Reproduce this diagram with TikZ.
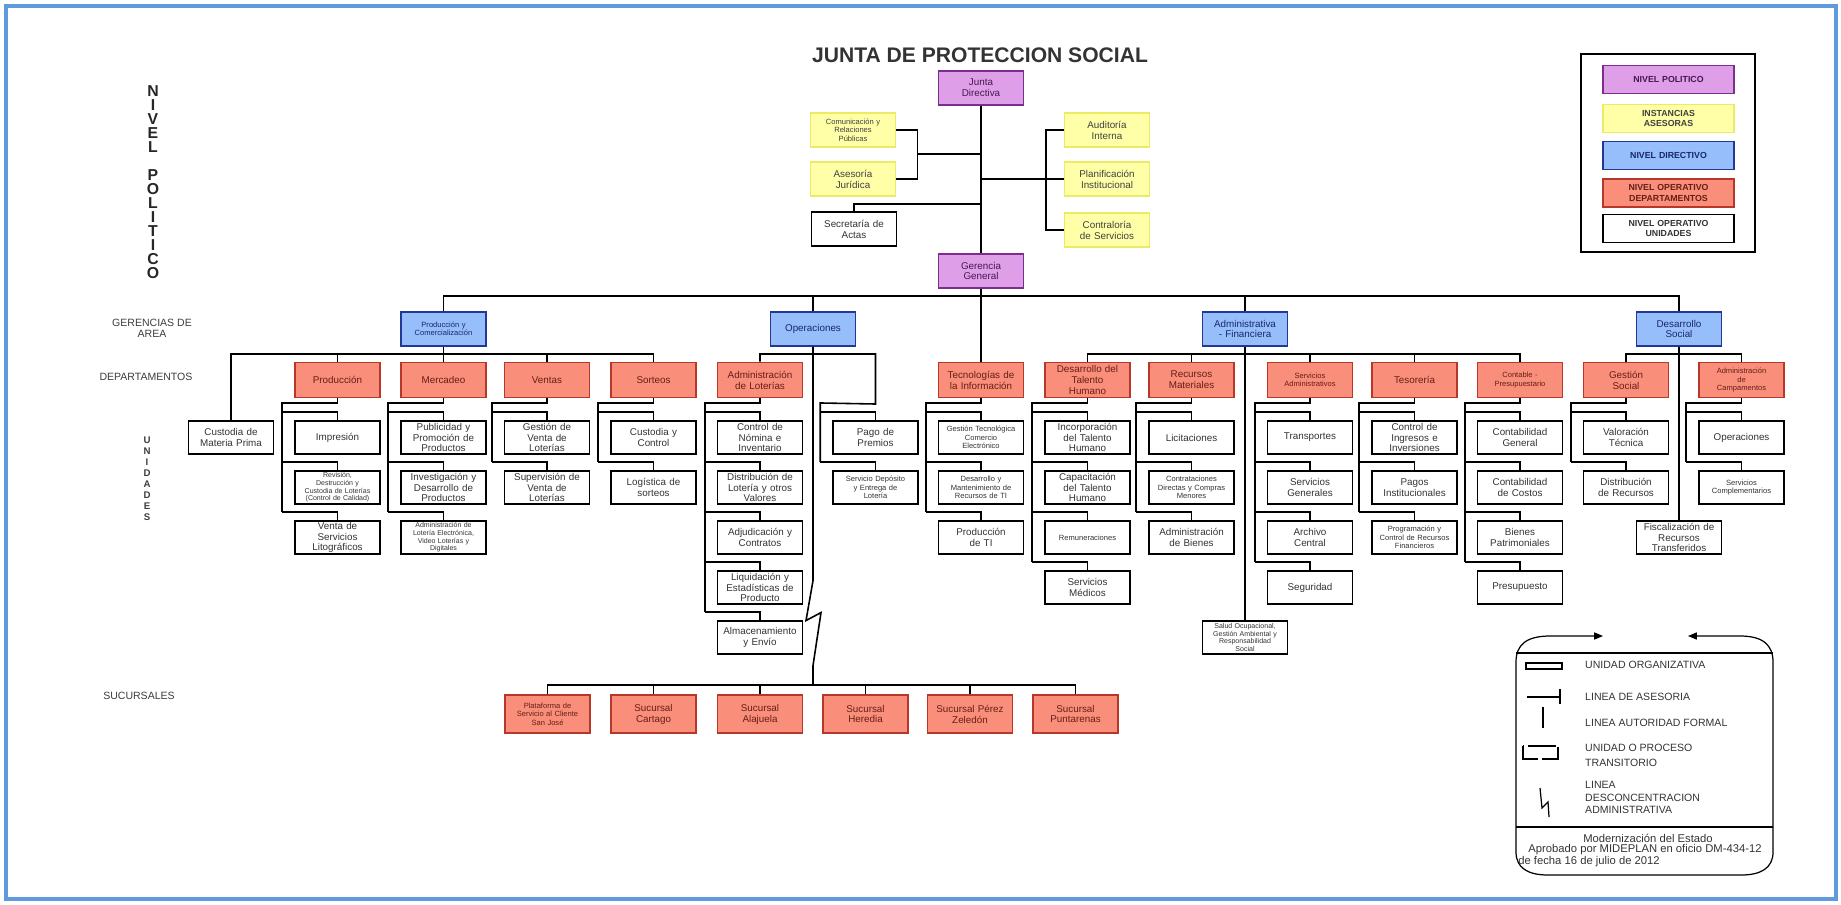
\documentclass[tikz,border=0pt]{standalone}
\usepackage{fontspec}
\setmainfont{Liberation Sans}
\usetikzlibrary{calc,arrows.meta}
\definecolor{polfill}{RGB}{222,158,232}
\definecolor{poldraw}{RGB}{125,45,140}
\definecolor{asefill}{RGB}{255,255,168}
\definecolor{asedraw}{RGB}{236,236,100}
\definecolor{dirfill}{RGB}{150,190,250}
\definecolor{dirdraw}{RGB}{35,55,150}
\definecolor{depfill}{RGB}{249,142,122}
\definecolor{depdraw}{RGB}{185,55,40}
\definecolor{frameblue}{RGB}{95,155,220}
\definecolor{labelgray}{RGB}{60,60,60}

\begin{document}
\begin{tikzpicture}[x=0.02cm,y=-0.02cm,
    box/.style={draw,line width=0.9pt,minimum width=1.7cm,minimum height=0.67cm,inner sep=0.5pt,
        text width=1.62cm,align=center,text=black!80,font=\fontsize{5.6}{6.2}\selectfont},
    pol/.style={box,fill=polfill,draw=poldraw,text=poldraw!55!black},
    ase/.style={box,fill=asefill,draw=asedraw,text=black!75},
    dir/.style={box,fill=dirfill,draw=dirdraw,text=dirdraw!70!black},
    dep/.style={box,fill=depfill,draw=depdraw,text=depdraw!55!black,minimum height=0.7cm},
    uni/.style={box,fill=white},
    tinytext/.style={font=\fontsize{4.3}{4.8}\selectfont},
    fourlines/.style={font=\fontsize{4}{4.35}\selectfont},
    legtxt/.style={minimum width=2.62cm,minimum height=0.56cm,text width=2.5cm,font=\bfseries\fontsize{5}{5.8}\selectfont},
    link/.style={line width=0.9pt},
    lvl/.style={text=labelgray,align=center,font=\fontsize{6}{6.2}\selectfont},
    lgt/.style={anchor=west,align=left,text=black!80,font=\fontsize{6}{7.1}\selectfont}]
    \useasboundingbox (0,0) rectangle (1841,904);
    \draw[frameblue,line width=2.2pt] (6,6) rectangle (1836,899);

    % Title
    \node[text=black!80,font=\bfseries\fontsize{12}{14}\selectfont] (title) at (980,55) {JUNTA DE PROTECCION SOCIAL};

    % Level labels
    \node[text=black!85,align=center,font=\bfseries\fontsize{9}{7.97}\selectfont] (npol) at (153,182)
        {N\\I\\V\\E\\L\\[7.97pt]P\\O\\L\\I\\T\\I\\C\\O};
    \node[lvl] (lger) at (152,328) {GERENCIAS DE\\AREA};
    \node[lvl] (ldep) at (146,377) {DEPARTAMENTOS};
    \node[align=center,text=labelgray,font=\bfseries\fontsize{5.5}{6.24}\selectfont] (luni) at (147,479)
        {U\\N\\I\\D\\A\\D\\E\\S};
    \node[lvl] (lsuc) at (139,696) {SUCURSALES};

    % Junta Directiva and advisory bodies
    \node[pol] (jd) at (981,88) {Junta\\Directiva};
    \node[ase,tinytext] (com) at (853,130) {Comunicación y\\Relaciones\\Públicas};
    \node[ase] (ases) at (853,179) {Asesoría\\Jurídica};
    \node[uni] (sec) at (854,229) {Secretaría de\\Actas};
    \node[ase] (aud) at (1107,130) {Auditoría\\Interna};
    \node[ase] (plan) at (1107,179) {Planificación\\Institucional};
    \node[ase] (contr) at (1107,230) {Contraloría\\de Servicios};
    \node[pol] (gg) at (981,271) {Gerencia\\General};

    % Area management
    \node[dir,tinytext] (pyc) at (443.5,329) {Producción y\\Comercialización};
    \node[dir] (ops) at (813,329) {Operaciones};
    \node[dir] (adf) at (1245,329) {Administrativa\\- Financiera};
    \node[dir] (ds) at (1679,329) {Desarrollo\\Social};

    % Departments
    \node[dep] (prod) at (337.5,380) {Producción};
    \node[dep] (merc) at (443.5,380) {Mercadeo};
    \node[dep] (ven) at (547,380) {Ventas};
    \node[dep] (sor) at (653.5,380) {Sorteos};
    \node[dep] (adl) at (760,380) {Administración\\de Loterías};
    \node[dep] (ti) at (981,380) {Tecnologías de\\la Información};
    \node[dep] (dth) at (1087.5,380) {Desarrollo del\\Talento\\Humano};
    \node[dep] (rm) at (1191.5,380) {Recursos\\Materiales};
    \node[dep,tinytext] (sa) at (1310,380) {Servicios\\Administrativos};
    \node[dep] (tes) at (1414.5,380) {Tesorería};
    \node[dep,tinytext] (cont) at (1520,380) {Contable -\\Presupuestario};
    \node[dep] (gs) at (1626,380) {Gestión\\Social};
    \node[dep,tinytext] (ac) at (1741.5,380) {Administración\\de\\Campamentos};

    % Units
    \node[uni] (cmp) at (231,437.5) {Custodia de\\Materia Prima};
    \node[uni] (imp) at (337.5,437.5) {Impresión};
    \node[uni,fourlines] (rev) at (337.5,487.5) {Revisión,\\Destrucción y\\Custodia de Loterías\\(Control de Calidad)};
    \node[uni] (vsl) at (337.5,537.5) {Venta de\\Servicios\\Litográficos};
    \node[uni] (pub) at (443.5,437.5) {Publicidad y\\Promoción de\\Productos};
    \node[uni] (inv) at (443.5,487.5) {Investigación y\\Desarrollo de\\Productos};
    \node[uni,fourlines] (ale) at (443.5,537.5) {Administración de\\Lotería Electrónica,\\Video Loterías y\\Digitales};
    \node[uni] (gvl) at (547,437.5) {Gestión de\\Venta de\\Loterías};
    \node[uni] (svl) at (547,487.5) {Supervisión de\\Venta de\\Loterías};
    \node[uni] (cyc) at (653.5,437.5) {Custodia y\\Control};
    \node[uni] (log) at (653.5,487.5) {Logística de\\sorteos};
    \node[uni] (cni) at (760,437.5) {Control de\\Nómina e\\Inventario};
    \node[uni] (dlv) at (760,487.5) {Distribución de\\Lotería y otros\\Valores};
    \node[uni] (adc) at (760,537.5) {Adjudicación y\\Contratos};
    \node[uni] (lep) at (760,587.5) {Liquidación y\\Estadísticas de\\Producto};
    \node[uni] (aye) at (760,637.5) {Almacenamiento\\y Envío};
    \node[uni] (pp) at (875.5,437.5) {Pago de\\Premios};
    \node[uni,tinytext] (sde) at (875.5,487.5) {Servicio Depósito\\y Entrega de\\Lotería};
    \node[uni,tinytext] (gtc) at (981,437.5) {Gestión Tecnológica\\Comercio\\Electrónico};
    \node[uni,tinytext] (dmr) at (981,487.5) {Desarrollo y\\Mantenimiento de\\Recursos de TI};
    \node[uni] (pti) at (981,537.5) {Producción\\de TI};
    \node[uni] (itl) at (1087.5,437.5) {Incorporación\\del Talento\\Humano};
    \node[uni] (ctl) at (1087.5,487.5) {Capacitación\\del Talento\\Humano};
    \node[uni,tinytext] (rem) at (1087.5,537.5) {Remuneraciones};
    \node[uni] (smed) at (1087.5,587.5) {Servicios\\Médicos};
    \node[uni] (lic) at (1191.5,437.5) {Licitaciones};
    \node[uni,tinytext] (cdc) at (1191.5,487.5) {Contrataciones\\Directas y Compras\\Menores};
    \node[uni] (adb) at (1191.5,537.5) {Administración\\de Bienes};
    \node[uni] (tra) at (1310,437.5) {Transportes};
    \node[uni] (sgen) at (1310,487.5) {Servicios\\Generales};
    \node[uni] (arc) at (1310,537.5) {Archivo\\Central};
    \node[uni] (seg) at (1310,587.5) {Seguridad};
    \node[uni] (cii) at (1414.5,437.5) {Control de\\Ingresos e\\Inversiones};
    \node[uni] (pin) at (1414.5,487.5) {Pagos\\Institucionales};
    \node[uni,tinytext] (pcr) at (1414.5,537.5) {Programación y\\Control de Recursos\\Financieros};
    \node[uni] (cgen) at (1520,437.5) {Contabilidad\\General};
    \node[uni] (ccos) at (1520,487.5) {Contabilidad\\de Costos};
    \node[uni] (bpat) at (1520,537.5) {Bienes\\Patrimoniales};
    \node[uni] (pres) at (1520,587.5) {Presupuesto};
    \node[uni,fourlines] (sal) at (1245,637.5) {Salud Ocupacional,\\Gestión Ambiental y\\Responsabilidad\\Social};
    \node[uni] (vt) at (1626,437.5) {Valoración\\Técnica};
    \node[uni] (dr) at (1626,487.5) {Distribución\\de Recursos};
    \node[uni] (opc) at (1741.5,437.5) {Operaciones};
    \node[uni,tinytext] (scom) at (1741.5,487.5) {Servicios\\Complementarios};
    \node[uni] (fis) at (1679,537.5) {Fiscalización de\\Recursos\\Transferidos};

    % Branches
    \node[dep,tinytext,minimum height=0.76cm] (suc1) at (547.5,714) {Plataforma de\\Servicio al Cliente\\San José};
    \node[dep,minimum height=0.76cm] (suc2) at (653.5,714) {Sucursal\\Cartago};
    \node[dep,minimum height=0.76cm] (suc3) at (760,714) {Sucursal\\Alajuela};
    \node[dep,minimum height=0.76cm] (suc4) at (865.5,714) {Sucursal\\Heredia};
    \node[dep,minimum height=0.76cm] (suc5) at (970,714) {Sucursal Pérez\\Zeledón};
    \node[dep,minimum height=0.76cm] (suc6) at (1075.5,714) {Sucursal\\Puntarenas};

    % Main authority line
    \draw[link] (jd) -- (gg);
    \draw[link] (gg) -- (ti);
    % Advisory lines
    \coordinate (asi) at (917,154);
    \draw[link] (com.east) -- ++(21,0) |- (ases.east);
    \draw[link] (asi) -- (asi -| jd.south);
    \draw[link] (aud.west) -- ++(-18,0) |- (contr.west);
    \draw[link] (plan.west) -- (plan.west -| jd.south);
    \coordinate (secj) at (981,204);
    \draw[link] (sec.north) |- (secj);

    % Area management line
    \coordinate (gline) at (981,296);
    \draw[link] (pyc.north) |- (gline) -| (ds.north);
    \draw[link] (ops.north) -- (ops.north |- gline);
    \draw[link] (adf.north) -- (adf.north |- gline);

    % Department lines
    \coordinate (dline) at (0,354);
    \draw[link] (cmp.north) |- (pyc.south |- dline) -| (sor.north);
    \draw[link] (pyc.south) -- (merc.north);
    \foreach \d in {prod,ven}
        \draw[link] (\d.north) -- (\d.north |- dline);
    \draw[link] (adl.north) |- (pp.north |- dline) -- ++(0,50)
        -- ($(pp.north west)+(-12,-17)$) -- ($(sde.north west)+(-12,-8)$);
    \draw[link] (dth.north) |- (adf.south |- dline) -| (cont.north);
    \draw[link] (adf.south) -- (sal.north);
    \foreach \d in {rm,sa,tes}
        \draw[link] (\d.north) -- (\d.north |- dline);
    \draw[link] (gs.north) |- (ds.south |- dline) -| (ac.north);
    \draw[link] (ds.south) -- (fis.north);

    % Unit brackets
    \foreach \d/\f/\l in {prod/imp/vsl,merc/pub/ale,ven/gvl/svl,sor/cyc/log,adl/cni/aye,ti/gtc/pti,
            dth/itl/smed,rm/lic/adb,sa/tra/seg,tes/cii/pcr,cont/cgen/pres,gs/vt/dr,ac/opc/scom}
        \draw[link] (\d.south) |- ($(\f.north west)+(-12,-17)$) -- ($(\l.north west)+(-12,-8)$);
    \foreach \u in {imp,rev,vsl,pub,inv,ale,gvl,svl,cyc,log,cni,dlv,adc,lep,aye,pp,sde,gtc,dmr,pti,
            itl,ctl,rem,smed,lic,cdc,adb,tra,sgen,arc,seg,cii,pin,pcr,cgen,ccos,bpat,pres,vt,dr,opc,scom}
        \draw[link] ($(\u.north west)+(-12,-8)$) -| (\u.north);

    % Decentralisation line to branches
    \coordinate (sline) at (0,685);
    \draw[link] (ops.south) -- ++(0,234) -- ++(-7,40) -- ++(15,-8) -- ++(-8,53) -- (ops.south |- sline);
    \draw[link] (suc1.north) |- (ops.south |- sline) -| (suc6.north);
    \foreach \s in {suc2,suc3,suc4,suc5}
        \draw[link] (\s.north) -- (\s.north |- sline);

    % Colour legend
    \node[draw,line width=0.9pt,minimum width=3.48cm,minimum height=3.96cm] (leg) at (1668,153) {};
    \node[pol,legtxt] (lpol) at (1668.5,79.5) {NIVEL POLITICO};
    \node[ase,legtxt] (lase) at (1668.5,118.5) {INSTANCIAS\\ASESORAS};
    \node[dir,legtxt] (ldir) at (1668.5,155.5) {NIVEL DIRECTIVO};
    \node[dep,legtxt] (ldep2) at (1668.5,193) {NIVEL OPERATIVO\\DEPARTAMENTOS};
    \node[uni,legtxt] (luni2) at (1668.5,228.5) {NIVEL OPERATIVO\\UNIDADES};

    % Symbol legend
    \draw[line width=0.7pt,{Triangle[length=5pt,width=4pt]}-{Triangle[length=5pt,width=4pt]}]
        (1603,636) -- (1550,636) .. controls (1526,636) and (1516,645) .. (1516,662)
        -- (1516,852) .. controls (1516,868) and (1528,875) .. (1548,875)
        -- (1741,875) .. controls (1761,875) and (1773,868) .. (1773,852)
        -- (1773,662) .. controls (1773,645) and (1763,636) .. (1740,636) -- (1688,636);
    \draw[line width=0.7pt] (1516,653) -- (1773,653);
    \draw[line width=0.7pt] (1516,827) -- (1773,827);
    \draw[line width=0.7pt] (1526,663) rectangle (1562,669);
    \draw[line width=0.7pt] (1527,697) -- (1560,697);
    \draw[line width=0.7pt] (1560,689) -- (1560,704);
    \draw[line width=0.7pt] (1543,707) -- (1543,728);
    \draw[line width=0.7pt,dash pattern=on 16pt off 2pt] (1523,746) rectangle (1558,759);
    \draw[line width=0.7pt] (1540,788) -- (1542,808) -- (1548,802) -- (1549,817);
    \node[lgt] (tuo) at (1579,665) {UNIDAD ORGANIZATIVA};
    \node[lgt] (tla) at (1579,697) {LINEA DE ASESORIA};
    \node[lgt] (taf) at (1579,723) {LINEA AUTORIDAD FORMAL};
    \node[lgt,font=\fontsize{6}{8.5}\selectfont] (tpt) at (1579,755.5) {UNIDAD O PROCESO\\TRANSITORIO};
    \node[lgt] (tdc) at (1579,797.5) {LINEA\\DESCONCENTRACION\\ADMINISTRATIVA};
    \node[text=black!80,font=\fontsize{6.4}{7}\selectfont] (tmod) at (1648,838) {Modernización del Estado};
    \node[text=black!80,font=\fontsize{6.4}{7}\selectfont] (tapr) at (1645,850) {Aprobado por MIDEPLAN en oficio DM-434-12};
    \node[anchor=west,inner sep=0pt,text=black!80,font=\fontsize{6.4}{7}\selectfont] (tfec) at (1518,862) {de fecha 16 de julio de 2012};
\end{tikzpicture}
\end{document}
